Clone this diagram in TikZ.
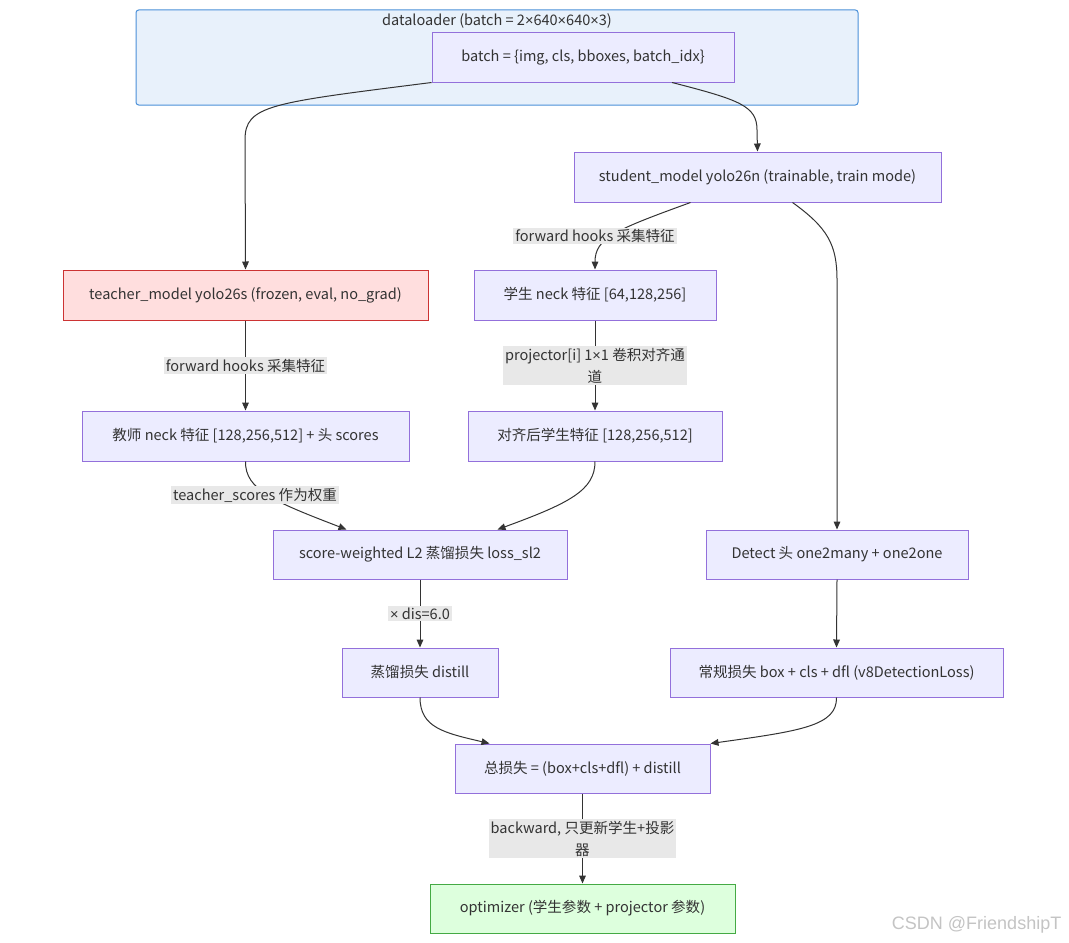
\documentclass[tikz,border=0pt]{standalone}
\usepackage{fontspec}
\setmainfont{Noto Sans CJK SC}
\newfontfamily\wmfont{Liberation Sans}
\newcommand{\tms}{{\wmfont ×}}
\usetikzlibrary{arrows.meta,calc}
\definecolor{nodefill}{HTML}{ECECFF}
\definecolor{nodeline}{HTML}{9370DB}
\definecolor{txt}{HTML}{333333}
\definecolor{edgec}{HTML}{333333}
\definecolor{lblbg}{HTML}{E8E8E8}
\definecolor{clfill}{HTML}{E8F1FB}
\definecolor{clline}{HTML}{4A90D9}
\definecolor{tfill}{HTML}{FFDEDE}
\definecolor{tline}{HTML}{CC3333}
\definecolor{ofill}{HTML}{DDFFDD}
\definecolor{oline}{HTML}{44AA44}
\definecolor{wm}{HTML}{C4C4C4}
\begin{document}
\begin{tikzpicture}[x=0.75pt,y=-0.75pt,
  font=\fontsize{10.9}{14}\selectfont, text=txt,
  box/.style 2 args={draw=nodeline, fill=nodefill, line width=0.75pt,
    minimum width=#1*0.75pt, minimum height=#2*0.75pt, inner sep=0pt},
  lbl/.style={fill=lblbg, inner xsep=1.5pt, inner ysep=1.2pt, align=center, text=txt,
    font=\fontsize{10.9}{16.5}\selectfont},
  conn/.style={draw=edgec, line width=0.75pt, -{Triangle[length=6pt,width=5pt]}}
]
\useasboundingbox (0,0) rectangle (1069,942);
\fill[white] (0,0) rectangle (1069,942);

% cluster
\node[draw=clline, fill=clfill, line width=0.75pt, rounded corners=2pt,
  minimum width=722*0.75pt, minimum height=95*0.75pt, inner sep=0pt] (cluster) at (497,57.5) {};
\node (cltitle) at (497,21) {dataloader (batch = 2\tms 640\tms 640\tms 3)};

% nodes
\node[box={302}{49}] (batch) at (583,57.5) {batch = \{img, cls, bboxes, batch\_idx\}};
\node[box={367}{50}] (student) at (757.5,177) {student\_model yolo26n (trainable, train mode)};
\node[box={365}{50}, draw=tline, fill=tfill] (teacher) at (245.5,295) {teacher\_model yolo26s (frozen, eval, no\_grad)};
\node[box={242}{50}] (sneck) at (595,295) {学生 neck 特征 [64,128,256]};
\node[box={327}{50}] (tneck) at (245.5,436) {教师 neck 特征 [128,256,512] + 头 scores};
\node[box={254}{50}] (aligned) at (595,436) {对齐后学生特征 [128,256,512]};
\node[box={294}{49}] (score) at (420,554.5) {score-weighted L2 蒸馏损失 loss\_sl2};
\node[box={262}{49}] (detect) at (837,554.5) {Detect 头 one2many + one2one};
\node[box={156}{49}] (distill) at (420,672.5) {蒸馏损失 distill};
\node[box={333}{49}] (regular) at (836.5,672.5) {常规损失 box + cls + dfl (v8DetectionLoss)};
\node[box={255}{49}] (total) at (582.5,768.5) {总损失 = (box+cls+dfl) + distill};
\node[box={305}{49}, draw=oline, fill=ofill] (optim) at (582.5,908.5) {optimizer (学生参数 + projector 参数)};

% connectors
\draw[conn] (batch.south west) .. controls (270,103) and (245,105) .. (245,140) -- (teacher.north);
\draw[conn] ($(batch.south)+(89,0)$) .. controls (740,100) and (757,106) .. (757,130) -- (student.north);
\draw[conn] ($(student.south)+(-67,0)$) .. controls (615,230) and (595,238) .. (595,262) -- (sneck.north);
\draw[conn] ($(student.south)+(35,0)$) .. controls (828,228) and (837,245) .. (837,280) -- (detect.north);
\draw[conn] (teacher.south) -- (tneck.north) node[lbl, midway] (l1) {forward hooks 采集特征};
\draw[conn] (sneck.south) -- (aligned.north) node[lbl, midway] (l3) {projector[i] 1\tms 1 卷积对齐通\\道};
\draw[conn] (tneck.south) .. controls (245,490) and (275,502) .. ($(score.north west)+(74,0)$);
\draw[conn] (aligned.south) .. controls (595,490) and (570,503) .. ($(score.north east)+(-70,0)$);
\draw[conn] (score.south) -- (distill.north) node[lbl, midway] (l5) {\tms\ dis=6.0};
\draw[conn] (detect.south) -- (regular.north);
\draw[conn] (distill.south) .. controls (420,728) and (445,733) .. ($(total.north west)+(35,0)$);
\draw[conn] (regular.south) .. controls (837,726) and (800,731) .. (total.north east);
\draw[conn] (total.south) -- (optim.north) node[lbl, midway] (l6) {backward, 只更新学生+投影\\器};

% curve labels
\node[lbl] (l2) at (595,236) {forward hooks 采集特征};
\node[lbl] (l4) at (255,495) {teacher\_scores 作为权重};

% watermark
\node[text=wm, font=\wmfont\fontsize{13.5}{16}\selectfont, anchor=east] (wmark) at (1066,925) {CSDN @FriendshipT};
\end{tikzpicture}
\end{document}
